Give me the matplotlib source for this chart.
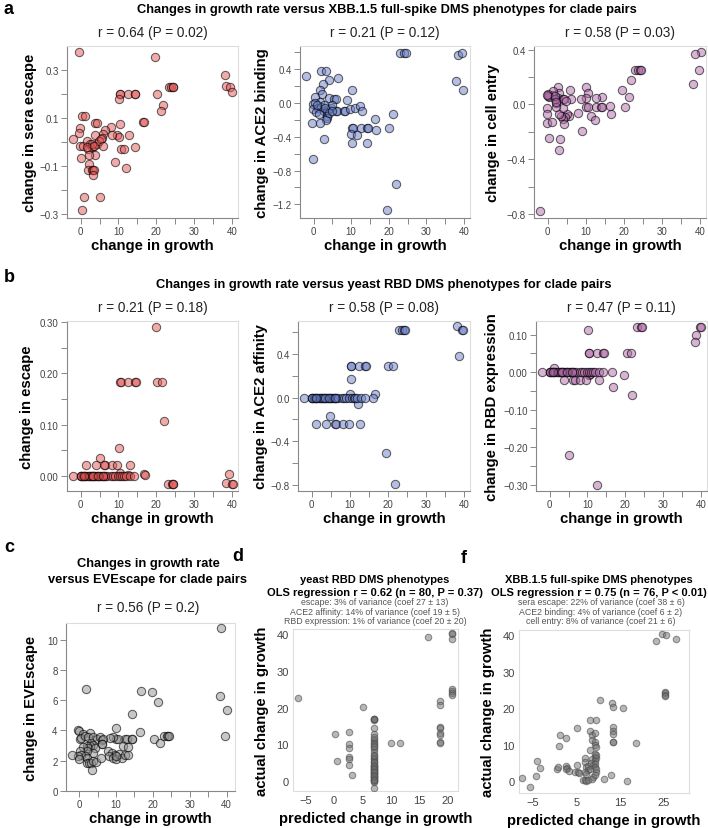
import matplotlib
matplotlib.use('Agg')
import matplotlib.pyplot as plt
from matplotlib.colors import to_rgba

plt.rcParams['font.family'] = ['Liberation Sans', 'DejaVu Sans']
plt.rcParams['axes.unicode_minus'] = True

# ---- datos ----
# panel a: XBB.1.5 full-spike DMS
sera_growth = [-0.35, 19.6, 38.2, 38.5, 39.6, 40.0, 23.3, 24.0, 24.4, 24.5,
               10.4, 10.5, 12.6, 14.3, 14.4, 10.2, 20.2, 21.9, 21.3, 16.5,
               16.7, 0.35, 1.2, 3.8, 4.4, -0.2, -0.4, -1.9, 10.5, 8.0,
               6.4, 6.0, 5.7, 3.8, 9.5, 10.2, 8.4, 12.8, 10.8, 11.5,
               14.3, -0.2, 0.5, 1.8, 2.5, 2.9, 3.3, 4.2, 4.9, 5.3,
               2.0, 3.8, 2.3, 0.0, 6.0, 2.9, 1.6, 3.6, 2.2, 9.1,
               12.1, 2.0, 2.9, 3.3, 3.5, 3.3, 0.9, 5.0, 0.4]
sera_escape = [0.373, 0.353, 0.278, 0.233, 0.229, 0.21, 0.229, 0.229, 0.229, 0.229,
               0.201, 0.201, 0.201, 0.201, 0.201, 0.181, 0.201, 0.153, 0.130, 0.086,
               0.082, 0.107, 0.111, 0.078, 0.078, 0.059, 0.038, 0.014, 0.075, 0.062,
               0.051, 0.034, 0.016, 0.030, 0.030, 0.023, 0.030, 0.030, -0.027, -0.030,
               -0.019, -0.014, -0.016, 0.005, -0.008, -0.020, -0.014, -0.008, 0.007, 0.014,
               -0.027, -0.052, -0.052, -0.064, -0.016, -0.007, -0.020, -0.014, -0.089, -0.082,
               -0.107, -0.117, -0.117, -0.117, -0.117, -0.137, -0.229, -0.229, -0.281]

ace2b_growth = [-1.9, 2.0, 3.3, 6.4, 4.2, 2.4, 1.8, 2.2, 10.2, 9.0,
                0.4, 1.6, 4.2, 5.5, 5.9, -0.2, 0.4, -0.2, 1.3, 2.0,
                0.7, 2.7, 3.8, 3.6, 3.6, 3.6, 3.4, 4.6, 5.9, 6.2,
                8.1, 8.3, 9.7, 10.9, 12.3, 12.9, 4.8, 2.7, -0.35, 1.8,
                2.7, -0.2, 10.3, 10.5, 12.5, 14.2, 14.4, 10.0, 11.6, 10.3,
                14.2, 16.4, 16.7, 20.1, 21.2, 21.8, 19.6, 22.9, 24.0, 24.5,
                38.4, 39.5, 38.0, 39.8, 1.0, 3.0, 4.0, 5.0, 1.5]
ace2_binding = [0.32, 0.37, 0.37, 0.29, 0.27, 0.224, 0.154, 0.10, 0.154, 0.03,
                0.062, 0.012, 0.05, 0.04, 0.04, -0.015, -0.008, -0.077, -0.066, -0.046,
                -0.116, -0.104, -0.077, -0.104, -0.154, -0.18, -0.2, -0.066, -0.093, -0.093,
                -0.097, -0.097, -0.077, -0.066, -0.039, -0.097, -0.027, -0.027, -0.24, -0.24,
                -0.425, -0.67, -0.297, -0.297, -0.297, -0.297, -0.297, -0.367, -0.38, -0.48,
                -0.475, -0.193, -0.328, -0.30, -0.13, -0.96, -1.26, 0.58, 0.58, 0.58,
                0.564, 0.58, 0.255, 0.154, -0.03, -0.06, -0.12, -0.10, -0.13]

entry_growth = [40.2, 38.7, 39.7, 38.3, 23.0, 23.7, 24.2, 24.6, 21.8, 19.6,
                21.3, 20.2, 16.4, 16.7, 14.2, 12.7, 12.6, 14.1, 14.4, 10.1,
                10.5, 11.5, 12.3, 10.1, 10.5, 10.0, 8.8, 9.1, 8.0, 5.9,
                6.0, 5.6, 5.2, 4.6, 4.0, 3.5, 4.2, 3.1, 2.6, 3.1,
                2.6, 2.5, 2.2, 1.3, 1.5, 0.4, 0.2, 0.0, -0.3, -0.3,
                -0.3, -0.3, 1.1, 0.4, 3.3, 2.9, -1.9, 4.0, 4.0, 4.4,
                4.8, 2.2, 1.8, 2.0, 2.3]
cell_entry = [0.383, 0.366, 0.251, 0.151, 0.251, 0.251, 0.251, 0.251, 0.176, 0.105,
              0.056, -0.02, -0.012, -0.068, 0.051, 0.044, -0.02, -0.02, -0.02, -0.02,
              -0.02, -0.085, -0.115, 0.129, 0.08, 0.046, 0.041, -0.195, -0.066, 0.105,
              0.041, -0.085, -0.073, -0.09, -0.105, -0.085, -0.146, -0.073, 0.129, 0.08,
              0.049, 0.029, 0.012, 0.066, 0.098, 0.056, 0.073, 0.060, 0.066, -0.024,
              -0.073, -0.134, -0.127, -0.244, -0.256, -0.334, -0.78, -0.024, 0.037, 0.037,
              0.024, -0.017, 0.037, 0.06, 0.02]

# panel b: yeast RBD DMS
esc_growth = [19.8, 10.4, 10.6, 12.6, 14.3, 14.6, 20.3, 21.6, 22.0, 10.2,
              5.0, 1.5, 4.0, 6.4, 8.3, 9.7, 13.0, 10.4, 12.4, 16.8,
              17.0, 39.1, 38.4, 40.0, 40.2, 23.2, 24.1, 24.3, 24.5, 6.2,
              -1.9, 0.0, 0.2, 0.5, 0.8, 1.2, 1.5, 2.0, 2.4, 2.8,
              3.2, 3.6, 3.9, 4.3, 4.7, 5.0, 5.4, 5.8, 6.1, 6.5,
              7.0, 8.0, 8.5, 9.0, 9.8, 10.5, 11.0, 11.5, 12.0, 13.0,
              14.0, 0.1, 2.2, 3.0, 3.4, 1.0, 4.5, 6.0]
escape = [0.29, 0.183, 0.183, 0.183, 0.183, 0.183, 0.183, 0.183, 0.108, 0.054,
          0.036, 0.021, 0.021, 0.021, 0.021, 0.021, 0.021, 0.0065, 0.003, 0.0045,
          0.002, 0.0045, -0.013, -0.016, -0.016, -0.016, -0.016, -0.016, -0.016, 0.021,
          0.0, 0.0, 0.0, 0.0, 0.0, 0.0, 0.0, 0.0, 0.0, 0.0,
          0.0, 0.0, 0.0, 0.0, 0.0, 0.0, 0.0, 0.0, 0.0, 0.0,
          0.0, 0.0, 0.0, 0.0, 0.0, 0.0, 0.0, 0.0, 0.0, 0.0,
          0.0, 0.0, 0.0, 0.0, 0.0, 0.0, 0.0, 0.0]

aff_growth = [38.1, 39.5, 39.7, 38.7, 22.9, 23.8, 24.3, 24.4, 20.1, 21.4,
              10.2, 10.3, 12.5, 14.1, 14.3, 10.2, 10.0, 16.6, 16.2, 12.2,
              4.9, 1.2, 3.8, 6.0, 6.4, 8.2, 9.7, 12.8, 19.6, 21.8,
              -1.9, 0.0, 0.2, 0.5, 0.8, 1.2, 1.5, 2.0, 2.4, 2.8,
              3.2, 3.6, 3.9, 4.3, 4.7, 5.0, 5.4, 5.8, 6.1, 6.5,
              7.0, 8.0, 8.5, 9.0, 9.8, 10.5, 11.0, 11.5, 12.0, 13.0,
              14.0, 0.1, 2.2, 3.0, 3.4, 1.0, 4.5, 6.0]
ace2_affinity = [0.65, 0.62, 0.62, 0.38, 0.62, 0.62, 0.62, 0.62, 0.29, 0.29,
                 0.29, 0.29, 0.29, 0.29, 0.29, 0.174, 0.03, 0.03, 0.0, -0.061,
                 -0.168, -0.244, -0.24, -0.24, -0.24, -0.24, -0.24, -0.24, -0.504, -0.794,
                 0.0, 0.0, 0.0, 0.0, 0.0, 0.0, 0.0, 0.0, 0.0, 0.0,
                 0.0, 0.0, 0.0, 0.0, 0.0, 0.0, 0.0, 0.0, 0.0, 0.0,
                 0.0, 0.0, 0.0, 0.0, 0.0, 0.0, 0.0, 0.0, 0.0, 0.0,
                 0.0, 0.0, 0.0, 0.0, 0.0, 0.0, 0.0, 0.0]

expr_growth = [39.8, 40.0, 38.8, 38.4, 23.2, 24.1, 24.5, 20.4, 21.4, 10.4,
               10.5, 12.6, 14.2, 14.3, 10.1, 1.2, 16.5, 19.6, 16.7, 21.9,
               10.4, 10.8, 3.9, 6.1, 6.6, 8.1, 9.7, 13.0, 5.0, 12.4,
               -1.9, 0.0, 0.2, 0.5, 0.8, 1.2, 1.5, 2.0, 2.4, 2.8,
               3.2, 3.6, 3.9, 4.3, 4.7, 5.0, 5.4, 5.8, 6.1, 6.5,
               7.0, 8.0, 8.5, 9.0, 9.8, 10.5, 11.0, 11.5, 12.0, 13.0,
               14.0, 0.1, 2.2, 3.0, 3.4, 1.0, 4.5, 6.0]
rbd_expression = [0.121, 0.121, 0.10, 0.08, 0.121, 0.121, 0.121, 0.052, 0.052, 0.052,
                  0.052, 0.052, 0.052, 0.052, 0.111, 0.0115, 0.0, -0.009, -0.039, -0.06,
                  -0.009, -0.004, -0.02, -0.02, -0.02, -0.02, -0.02, -0.02, -0.22, -0.30,
                  0.0, 0.0, 0.0, 0.0, 0.0, 0.0, 0.0, 0.0, 0.0, 0.0,
                  0.0, 0.0, 0.0, 0.0, 0.0, 0.0, 0.0, 0.0, 0.0, 0.0,
                  0.0, 0.0, 0.0, 0.0, 0.0, 0.0, 0.0, 0.0, 0.0, 0.0,
                  0.0, 0.0, 0.0, 0.0, 0.0, 0.0, 0.0, 0.0]

# panel c: EVEscape
eve_growth = [38.6, 38.2, 40.0, 39.6, 16.7, 19.7, 21.3, 14.2, 1.8, 10.1,
              16.5, 20.3, 21.9, 23.0, 23.7, 24.2, 24.4, 12.4, 12.9, 14.2,
              14.4, 10.1, 10.6, 9.2, 8.3, -0.3, 0.0, 0.9, 2.9, 0.2,
              0.4, 1.5, 2.4, 3.8, 4.7, 5.6, 6.1, 6.5, 6.1, 6.3,
              3.3, 3.8, 2.9, 2.0, 2.4, 1.1, 4.3, 3.8, 2.0, 0.2,
              1.5, 0.6, -0.3, -1.9, 0.0, 2.0, 2.2, 2.7, 3.1, 3.8,
              3.5, 4.5, 5.9, 7.9, 8.8, 9.7, 8.1, 9.2, 10.1, 10.9,
              11.5, 12.4, 13.3, 11.9, 13.3, 9.9]
evescape = [10.77, 6.26, 5.35, 3.65, 6.59, 6.57, 5.86, 5.09, 6.75, 4.16,
            3.87, 3.43, 3.16, 3.65, 3.65, 3.65, 3.65, 3.43, 3.43, 3.43,
            3.43, 3.43, 3.43, 3.54, 3.50, 4.05, 3.96, 3.76, 3.83, 3.43,
            3.47, 3.65, 3.54, 3.54, 3.43, 3.60, 3.38, 3.43, 3.10, 3.10,
            3.14, 3.03, 2.99, 2.99, 2.81, 2.94, 2.81, 2.54, 2.65, 2.65,
            2.32, 2.37, 2.28, 2.37, 2.10, 2.15, 1.88, 1.84, 1.88, 1.99,
            1.39, 1.92, 2.21, 2.65, 2.54, 2.37, 2.28, 2.21, 2.10, 2.43,
            2.21, 2.37, 2.37, 2.99, 2.88, 2.28]

# panel d: OLS con fenotipos de levadura
yeast_pred = [-6.3, 0.18, 0.47, 5.06, 2.7, 2.7, 2.7, 2.7, 2.7, 2.7,
              3.2, 10.0, 11.6, 16.5, 20.8, 20.8, 20.8, 20.8, 20.8, 20.8,
              20.8, 18.6, 18.6, 18.6, 18.6, 18.6, 18.6, 18.6, 18.6, 7.1,
              7.1, 7.1, 7.1, 7.1, 7.1, 7.1, 7.1, 7.1, 7.1, 7.1,
              7.1, 7.1, 7.1, 7.1, 7.1, 7.1, 7.1, 7.1, 7.1, 7.1,
              7.1, 7.1, 7.1, 7.1, 7.1, 7.1, 7.1, 7.1, 7.1, 7.1,
              7.1, 7.1, 7.1, 7.1, 7.1, 7.1, 7.1, 7.1, 7.1, 7.1,
              7.1, 7.1, 7.1, 7.1, 7.1, 7.1]
yeast_actual = [22.5, 12.7, 5.45, 20.2, 13.4, 10.2, 9.1, 6.5, 5.9, 4.4,
                1.6, 10.45, 10.45, 39.1, 40.3, 40.0, 38.8, 25.0, 24.4, 24.1,
                23.5, 21.8, 20.6, 14.8, 14.4, 13.0, 12.6, 10.7, 10.5, 17.0,
                16.8, 16.5, 14.5, 12.9, 11.5, 11.0, 10.5, 10.2, 9.2, 8.8,
                8.0, 7.0, 6.4, 6.1, 5.5, 5.0, 4.5, 4.2, 3.8, 3.5,
                3.2, 3.0, 2.8, 2.5, 2.3, 2.0, 1.8, 1.5, 1.2, 1.0,
                0.7, 0.5, 0.2, 0.0, -0.2, -1.8, 16.8, 12.0, 9.5, 6.8,
                5.2, 4.0, 3.3, 2.6, 1.4, 0.3]

# panel f: OLS con fenotipos XBB.1.5
spike_pred = [-7.4, -5.5, -4.0, -4.2, -3.2, 0.6, 0.8, 1.0, 1.2, 2.7,
              2.6, 2.9, 2.7, 3.3, 5.2, 5.1, 4.6, 5.3, 5.7, 6.5,
              6.9, 7.3, 7.7, 7.1, 7.1, 7.3, 7.7, 7.7, 7.1, 7.3,
              8.1, 8.2, 8.5, 8.5, 8.2, 8.7, 8.9, 8.4, 8.1, 8.9,
              8.7, 9.2, 9.2, 9.4, 9.6, 9.4, 9.6, 9.2, 9.6, 9.4,
              9.4, 9.4, 9.6, 9.6, 9.4, 9.6, 10.5, 11.3, 13.2, 13.5,
              13.5, 13.5, 13.5, 13.5, 13.5, 13.0, 15.7, 16.7, 18.6, 23.3,
              24.6, 25.5, 27.8, 25.4, 25.4, 25.4, 25.4]
spike_actual = [0.9, -1.5, 5.45, 1.4, 3.7, 3.3, 3.9, 9.6, 12.7, 11.9,
                4.1, 3.7, 3.5, 2.7, 14.6, 4.6, 2.5, 2.5, 2.3, 0.5,
                0.3, 0.1, 0.3, 6.4, 5.3, 3.9, 4.2, 3.0, 2.5, 2.1,
                16.9, 13.7, 12.8, 11.2, 8.5, 6.2, 4.4, 5.1, 3.5, 1.2,
                0.7, 7.5, 6.6, 5.7, 6.4, 4.8, 2.5, 1.6, 16.8, 13.3,
                10.9, 10.1, 9.5, 7.1, 3.9, 3.5, 22.3, 0.7, 21.6, 20.5,
                14.8, 13.7, 13.0, 10.9, 10.7, 1.6, 20.1, 0.1, 10.5, 38.6,
                40.5, 40.1, 39.1, 24.6, 24.1, 23.7, 23.3]

W, H = 708, 829
fig = plt.figure(figsize=(W / 100, H / 100), dpi=100)


def add_ax(l, t, r, b):
    return fig.add_axes([l / W, 1 - b / H, (r - l) / W, (b - t) / H])


def ftext(x, y, s, **kw):
    fig.text(x / W, 1 - y / H, s, ha=kw.pop('ha', 'center'), va=kw.pop('va', 'center'), **kw)


def tick_labels(vals, every, fmt):
    return [(fmt.format(v).replace('-', '\u2212') if i % every == 0 else '') for i, v in enumerate(vals)]


def scatter_panel(rect, x, y, color, xlim, ylim, xt, xevery, yt, yevery, yfmt, ylabel,
                  xlabel='change in growth', rtext=None, s=36, ticks=True, ylab_off=36,
                  edge=(0, 0, 0, 0.6), fa=0.5):
    ax = add_ax(*rect)
    wpx = rect[2] - rect[0]
    hpx = rect[3] - rect[1]
    ax.scatter(x, y, s=s, facecolor=to_rgba(color, fa), edgecolor=edge, linewidth=0.75, zorder=3)
    ax.set_xlim(*xlim)
    ax.set_ylim(*ylim)
    ax.set_xticks(xt)
    ax.set_xticklabels(tick_labels(xt, xevery, '{:g}'))
    ax.set_yticks(yt)
    ax.set_yticklabels(tick_labels(yt, yevery, yfmt))
    for sp in ax.spines.values():
        sp.set_color('#dddddd')
        sp.set_linewidth(0.8)
    if ticks:
        ax.spines['left'].set_color('#888888')
        ax.spines['bottom'].set_color('#888888')
        ax.tick_params(direction='out', length=4, width=0.7, color='#888888',
                       labelsize=7, labelcolor='#444444', pad=2)
    else:
        ax.tick_params(length=0, labelsize=8, labelcolor='#444444', pad=3)
    ax.set_xlabel(xlabel, fontsize=10.7, fontweight='bold', va='center')
    ax.xaxis.set_label_coords(0.5, -27 / hpx)
    ax.set_ylabel(ylabel, fontsize=10.7, fontweight='bold', va='center')
    ax.yaxis.set_label_coords(-ylab_off / wpx, 0.5)
    if rtext:
        ftext((rect[0] + rect[2]) / 2, rect[1] - 14, rtext, fontsize=9.8, color='#222222')
    return ax


red = '#e45756'
blue = '#6a7fc8'
purple = '#b06aa8'
grey = '#909090'

xt_growth = [0, 5, 10, 15, 20, 25, 30, 35, 40]
TITLE = 9.3

# fila a
ftext(4, 9, 'a', fontsize=13, fontweight='bold', ha='left')
ftext(387, 10, 'Changes in growth rate versus XBB.1.5 full-spike DMS phenotypes for clade pairs',
      fontsize=TITLE, fontweight='bold')
scatter_panel((67, 47, 238, 219), sera_growth, sera_escape, red, (-3.6, 41.6), (-0.315, 0.40),
              xt_growth, 2, [-0.3, -0.2, -0.1, 0.0, 0.1, 0.2, 0.3], 2, '{:.1f}',
              'change in sera escape', rtext='r = 0.64 (P = 0.02)', ylab_off=37)
scatter_panel((300, 47, 470, 219), ace2b_growth, ace2_binding, blue, (-3.6, 41.6), (-1.36, 0.668),
              xt_growth, 2, [-1.2, -1.0, -0.8, -0.6, -0.4, -0.2, 0.0, 0.2, 0.4, 0.6], 2, '{:.1f}',
              'change in ACE2 binding', rtext='r = 0.21 (P = 0.12)', ylab_off=38)
scatter_panel((534, 47, 706, 219), entry_growth, cell_entry, purple, (-3.6, 41.6), (-0.83, 0.427),
              xt_growth, 2, [-0.8, -0.6, -0.4, -0.2, 0.0, 0.2, 0.4], 2, '{:.1f}',
              'change in cell entry', rtext='r = 0.58 (P = 0.03)', ylab_off=41)

# fila b
ftext(4, 278, 'b', fontsize=13, fontweight='bold', ha='left')
ftext(384, 285, 'Changes in growth rate versus yeast RBD DMS phenotypes for clade pairs',
      fontsize=TITLE, fontweight='bold')
scatter_panel((67, 322, 238, 492), esc_growth, escape, red, (-3.6, 41.6), (-0.029, 0.302),
              xt_growth, 2, [0.0, 0.05, 0.1, 0.15, 0.2, 0.25, 0.3], 2, '{:.2f}',
              'change in escape', rtext='r = 0.21 (P = 0.18)', ylab_off=40)
scatter_panel((298, 322, 470, 492), aff_growth, ace2_affinity, blue, (-3.6, 41.6), (-0.855, 0.70),
              xt_growth, 2, [-0.8, -0.6, -0.4, -0.2, 0.0, 0.2, 0.4, 0.6], 2, '{:.1f}',
              'change in ACE2 affinity', rtext='r = 0.58 (P = 0.08)', ylab_off=37)
scatter_panel((536, 322, 707, 492), expr_growth, rbd_expression, purple, (-3.6, 41.6), (-0.317, 0.136),
              xt_growth, 2, [-0.3, -0.25, -0.2, -0.15, -0.1, -0.05, 0.0, 0.05, 0.1], 2, '{:.2f}',
              'change in RBD expression', rtext='r = 0.47 (P = 0.11)', ylab_off=44)

# fila c / d / f
ftext(4, 547, 'c', fontsize=13, fontweight='bold', ha='left')
ftext(148, 564, 'Changes in growth rate', fontsize=TITLE, fontweight='bold')
ftext(148, 580, 'versus EVEscape for clade pairs', fontsize=TITLE, fontweight='bold')
ftext(148, 608, 'r = 0.56 (P = 0.2)', fontsize=9.8, color='#222222')
scatter_panel((66, 624, 235, 792), eve_growth, evescape, grey, (-3.6, 42.3), (0, 11.1),
              xt_growth, 2, [0, 2, 4, 6, 8, 10], 1, '{:g}', 'change in EVEscape', ylab_off=35)

ftext(232, 557, 'd', fontsize=13, fontweight='bold', ha='left')
ftext(375, 580, 'yeast RBD DMS phenotypes', fontsize=8.0, fontweight='bold')
ftext(375, 593, 'OLS regression r = 0.62 (n = 80, P = 0.37)', fontsize=8.0, fontweight='bold')
ftext(375, 603, 'escape: 3% of variance (coef 27 \u00b1 13)', fontsize=6.3, color='#555555')
ftext(375, 613, 'ACE2 affinity: 14% of variance (coef 19 \u00b1 5)', fontsize=6.3, color='#555555')
ftext(375, 622, 'RBD expression: 1% of variance (coef 20 \u00b1 20)', fontsize=6.3, color='#555555')
scatter_panel((293, 630, 458, 792), yeast_pred, yeast_actual, '#707070', (-7.2, 21.8), (-2.7, 41.4),
              [-5, 0, 5, 10, 15, 20], 1, [0, 10, 20, 30, 40], 1, '{:g}', 'actual change in growth',
              xlabel='predicted change in growth', s=22, ticks=False, ylab_off=31,
              edge=(0.3, 0.3, 0.3, 0.6))

ftext(461, 559, 'f', fontsize=13, fontweight='bold', ha='left')
ftext(599, 580, 'XBB.1.5 full-spike DMS phenotypes', fontsize=8.0, fontweight='bold')
ftext(599, 593, 'OLS regression r = 0.75 (n = 76, P < 0.01)', fontsize=8.0, fontweight='bold')
ftext(601, 603, 'sera escape: 22% of variance (coef 38 \u00b1 6)', fontsize=6.3, color='#555555')
ftext(601, 613, 'ACE2 binding: 4% of variance (coef 6 \u00b1 2)', fontsize=6.3, color='#555555')
ftext(601, 622, 'cell entry: 8% of variance (coef 21 \u00b1 6)', fontsize=6.3, color='#555555')
scatter_panel((519, 631, 689, 794), spike_pred, spike_actual, '#707070', (-8.1, 30.8), (-3.2, 41.5),
              [-5, 0, 5, 10, 15, 20, 25], 2, [0, 10, 20, 30, 40], 1, '{:g}', 'actual change in growth',
              xlabel='predicted change in growth', s=22, ticks=False, ylab_off=31,
              edge=(0.3, 0.3, 0.3, 0.6))

plt.savefig('out.png', dpi=100)
